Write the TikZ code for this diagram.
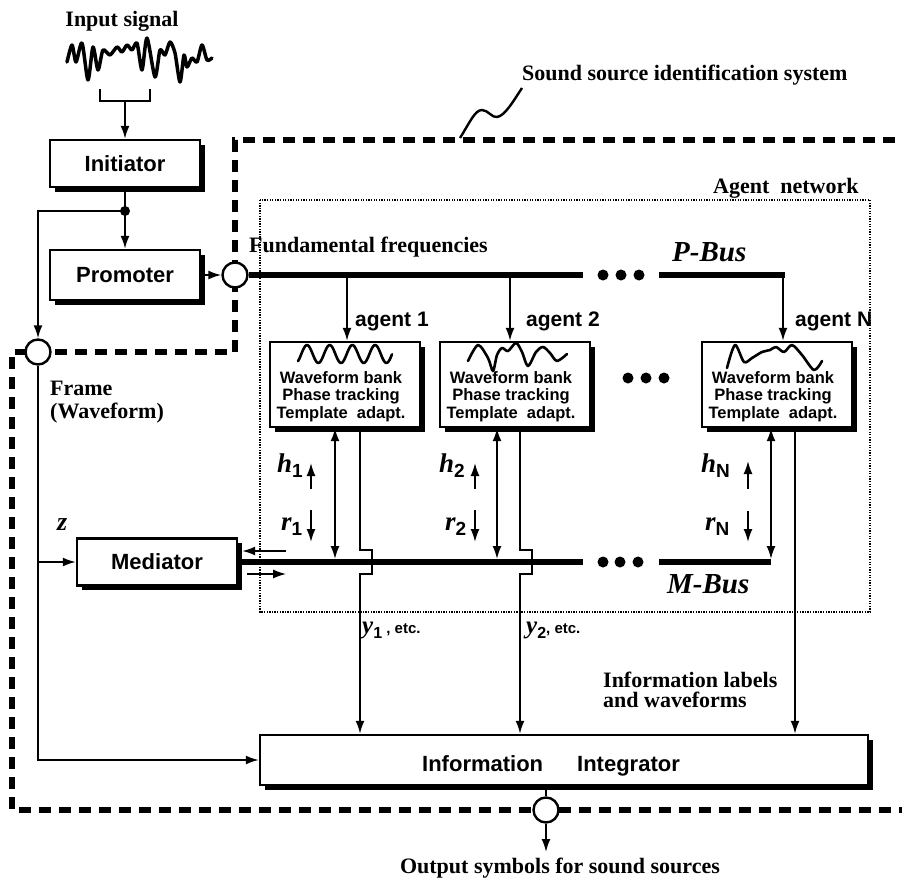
\documentclass[tikz,border=0pt]{standalone}
\usepackage{fontspec}
\setmainfont{Liberation Serif}
\newfontfamily\hv{Liberation Sans}
\usetikzlibrary{arrows.meta,shadows,calc}
\newcommand{\lblfont}{\bfseries\fontsize{22}{24}\selectfont}
\newcommand{\hrlab}[2]{{\fontsize{27}{27}\selectfont\bfseries\itshape #1}\raisebox{-5pt}{\hv\bfseries\fontsize{19}{19}\selectfont #2}}
\newcommand{\ylab}[2]{{\fontsize{25}{25}\selectfont\bfseries\itshape y}\raisebox{-5pt}{\hv\bfseries\fontsize{16}{16}\selectfont #1}{\hv\bfseries\fontsize{15}{15}\selectfont #2}}
\tikzset{
  blk/.style={draw, line width=2.4pt, fill=white,
    drop shadow={shadow xshift=4.5pt, shadow yshift=-4.5pt, fill=black, opacity=1},
    font=\hv\bfseries\fontsize{22}{26}\selectfont, inner sep=0pt},
  agbox/.style={blk, minimum width=150pt, minimum height=85pt},
  agt/.style={font=\hv\bfseries\fontsize{16.5}{17}\selectfont, inner sep=0pt, anchor=base},
  lbl/.style={font=\lblfont, inner sep=0pt},
  jn/.style={circle, draw, line width=2.4pt, fill=white, minimum size=25pt, inner sep=0pt},
  ln/.style={line width=1.8pt},
  tip/.tip={Latex[length=13pt,width=9pt]},
  arr/.style={line width=1.8pt, -tip},
  darr/.style={line width=1.8pt, tip-tip},
  bus/.style={line width=6.5pt},
  sysb/.style={line width=6.5pt, dash pattern=on 12pt off 8pt},
  anet/.style={line width=1.5pt, dash pattern=on 1.3pt off 1.3pt},
  wave/.style={line width=2.6pt, line join=round, line cap=round},
}
\begin{document}
\begin{tikzpicture}[x=1pt,y=-1pt]
\clip (0,0) rectangle (902,878);
\fill[white] (0,0) rectangle (902,878);

% system boundary and agent network
\draw[sysb] (915,140) -- (235,140) -- (235,352) -- (12,352) -- (12,810) -- (915,810);
\draw[anet] (260,200) rectangle (870,612);
\draw[line width=2.4pt] (460,138) .. controls (470,122) and (475,110) .. (482,110) .. controls (488,110) and (492,118) .. (497,117) .. controls (505,116) and (514,100) .. (522,88);

% labels
\node[lbl, anchor=base] (tin) at (122,27) {Input signal};
\node[lbl, anchor=base west] (tsys) at (522,80) {Sound source identification system};
\node[lbl, anchor=base west] (tnet) at (713,193) {Agent\ \ network};
\node[lbl, anchor=base west] (tff) at (249,252) {Fundamental frequencies};
\node[font=\bfseries\itshape\fontsize{29}{29}\selectfont, inner sep=0pt, anchor=base west] (tpb) at (672,261) {P-Bus};
\node[font=\bfseries\itshape\fontsize{29}{29}\selectfont, inner sep=0pt, anchor=base west] (tmb) at (667,593) {M-Bus};
\node[lbl, anchor=base west] (tfr1) at (50,395) {Frame};
\node[lbl, anchor=base west] (tfr2) at (50,418) {(Waveform)};
\node[font=\bfseries\itshape\fontsize{26}{26}\selectfont, inner sep=0pt, anchor=base west] (tz) at (57,530) {z};
\node[lbl, anchor=base west] (til1) at (603,687) {Information labels};
\node[lbl, anchor=base west] (til2) at (603,707) {and waveforms};
\node[lbl, anchor=base] (tout) at (560,873) {Output symbols for sound sources};

% input waveform and bracket
\draw[wave, line width=3.5pt] plot[smooth, tension=0.45] coordinates {(67,62) (72,45) (76,62) (82,43) (88,80) (93,47) (98,70) (103,50) (110,55) (117,47) (122,52) (127,45) (132,50) (137,43) (142,70) (147,38) (155,77) (160,50) (165,55) (170,42) (175,53) (180,82) (184,55) (187,67) (192,58) (197,62) (202,45) (207,60) (212,58)};
\draw[ln] (100,89) -- (100,101) -- (150,101) -- (150,89);
\coordinate (br) at (125,101);

% blocks
\node[blk, minimum width=150pt, minimum height=47pt] (init) at (125,163.5) {Initiator};
\node[blk, minimum width=150pt, minimum height=50pt] (prom) at (125,275) {Promoter};
\node[blk, minimum width=160pt, minimum height=47pt] (med) at (157,562) {Mediator};
\node[blk, minimum width=608pt, minimum height=50pt] (ii) at (564,760) {};
\node[font=\hv\bfseries\fontsize{22}{26}\selectfont, inner sep=0pt, anchor=base] (iit) at (551,771) {Information\hspace{34pt}Integrator};

\node[agbox] (a1) at (345,384.5) {};
\node[agbox] (a2) at (515,384.5) {};
\node[agbox] (aN) at (777,384.5) {};

% circles
\node[jn] (pc) at (235,275) {};
\node[jn] (fc) at (38,352) {};
\node[jn] (oc) at (546,810) {};

% input path
\draw[arr] (br) -- (init.north);
\draw[arr] (init.south) -- (prom.north);
\coordinate (jd) at (125,211);
\fill (jd) circle (5);
\draw[arr] (jd) -| (fc.north);
\draw[arr] (fc.south) |- (ii.west);
\draw[arr] (fc.south |- med.west) -- (med.west);
\draw[arr] (prom.east) -- (pc.west);

% P-Bus
\coordinate (pb1) at (583,275);
\coordinate (pb2) at (659,275);
\coordinate (pbN) at (783,275);
\draw[bus] (pc.east) -- (pb1);
\draw[bus] (pb2) -- ([xshift=1.5pt]pbN);
\foreach \xx in {603,621,639} \fill (\xx,275) circle (5.5);
\draw[arr] ([xshift=2pt]a1.north |- pb1) -- ([xshift=2pt]a1.north);
\draw[arr] ([xshift=-5pt]a2.north |- pb1) -- ([xshift=-5pt]a2.north);
\draw[arr] (pbN) -- (pbN |- aN.north);
\node[font=\hv\bfseries\fontsize{21}{21}\selectfont, inner sep=0pt, anchor=base west] (ag1) at (355,326) {agent 1};
\node[font=\hv\bfseries\fontsize{21}{21}\selectfont, inner sep=0pt, anchor=base west] (ag2) at (526,326) {agent 2};
\node[font=\hv\bfseries\fontsize{21}{21}\selectfont, inner sep=0pt, anchor=base west] (agN) at (795,326) {agent N};

% agent waveforms
\draw[wave] plot[domain=298:392, samples=80, smooth] (\x, {354 - 9*cos(15.86*(\x-307))});
\draw[wave] plot[smooth, tension=0.5] coordinates {(468,361) (478,345) (488,358) (493,371) (497,355) (502,348) (508,351) (516,343) (522,352) (528,366) (536,352) (543,347) (550,353) (557,361) (567,354)};
\draw[wave] plot[smooth, tension=0.5] coordinates {(727,368) (735,345) (744,362) (752,358) (762,352) (770,350) (776,347) (784,352) (792,345) (802,355) (814,370) (822,361)};

% agent texts
\node[agt] (w1a) at (341,383) {Waveform bank};
\node[agt] (w1b) at (341,400.5) {Phase tracking};
\node[agt] (w1c) at (341,418) {Template\ \ adapt.};
\node[agt] (w2a) at (511,383) {Waveform bank};
\node[agt] (w2b) at (511,400.5) {Phase tracking};
\node[agt] (w2c) at (511,418) {Template\ \ adapt.};
\node[agt] (wNa) at (773,383) {Waveform bank};
\node[agt] (wNb) at (773,400.5) {Phase tracking};
\node[agt] (wNc) at (773,418) {Template\ \ adapt.};
\foreach \xx in {628,646,664} \fill (\xx,378) circle (5.5);

% M-Bus
\coordinate (mb1) at (583,562);
\coordinate (mb2) at (659,562);
\draw[bus] (med.east) -- (mb1);
\draw[bus] (mb2) -- ([xshift=-6pt]aN.south |- mb2);
\foreach \xx in {603,620,638} \fill (\xx,562) circle (5.5);
\draw[arr] ([xshift=48pt,yshift=11pt]med.east) -- ([xshift=4pt,yshift=11pt]med.east);
\draw[arr] ([xshift=9pt,yshift=-12pt]med.east) -- ([xshift=48pt,yshift=-12pt]med.east);

% agent <-> M-Bus
\draw[darr, shorten >=3pt] ([xshift=-10pt]a1.south) -- ([xshift=-10pt]a1.south |- mb1);
\draw[darr, shorten >=3pt] ([xshift=-18pt]a2.south) -- ([xshift=-18pt]a2.south |- mb1);
\draw[darr, shorten >=3pt] ([xshift=-6pt]aN.south) -- ([xshift=-6pt]aN.south |- mb1);

% outputs to integrator
\draw[arr] ([xshift=15pt]a1.south) -- ++(0,122) -- ++(12,0) -- ++(0,24) -- ++(-12,0) -- ([xshift=15pt]a1.south |- ii.north);
\draw[arr] ([xshift=5pt]a2.south) -- ++(0,122) -- ++(12,0) -- ++(0,24) -- ++(-12,0) -- ([xshift=5pt]a2.south |- ii.north);
\draw[arr] ([xshift=18pt]aN.south) -- ([xshift=18pt]aN.south |- ii.north);

% h / r labels
\node[inner sep=0pt, anchor=base west] (h1) at (277,472) {\hrlab{h}{1}};
\node[inner sep=0pt, anchor=base west] (r1) at (281,530) {\hrlab{r}{1}};
\node[inner sep=0pt, anchor=base west] (h2) at (439,472) {\hrlab{h}{2}};
\node[inner sep=0pt, anchor=base west] (r2) at (445,530) {\hrlab{r}{2}};
\node[inner sep=0pt, anchor=base west] (hN) at (701,472) {\hrlab{h}{N}};
\node[inner sep=0pt, anchor=base west] (rN) at (705,530) {\hrlab{r}{N}};
\draw[arr] (311,489) -- (311,463);
\draw[arr] (311,510) -- (311,542);
\draw[arr] (475,489) -- (475,463);
\draw[arr] (475,510) -- (475,542);
\draw[arr] (748,489) -- (748,461);
\draw[arr] (748,511) -- (748,542);

% y labels
\node[inner sep=0pt, anchor=base west] (y1) at (362,633) {\ylab{1}{\ ,\ etc.}};
\node[inner sep=0pt, anchor=base west] (y2) at (526,633) {\ylab{2}{, etc.}};

% output
\draw[ln] (ii.south -| oc) -- (oc.north);
\coordinate (outend) at (546,852);
\draw[arr] (oc.south) -- (outend);
\end{tikzpicture}
\end{document}
